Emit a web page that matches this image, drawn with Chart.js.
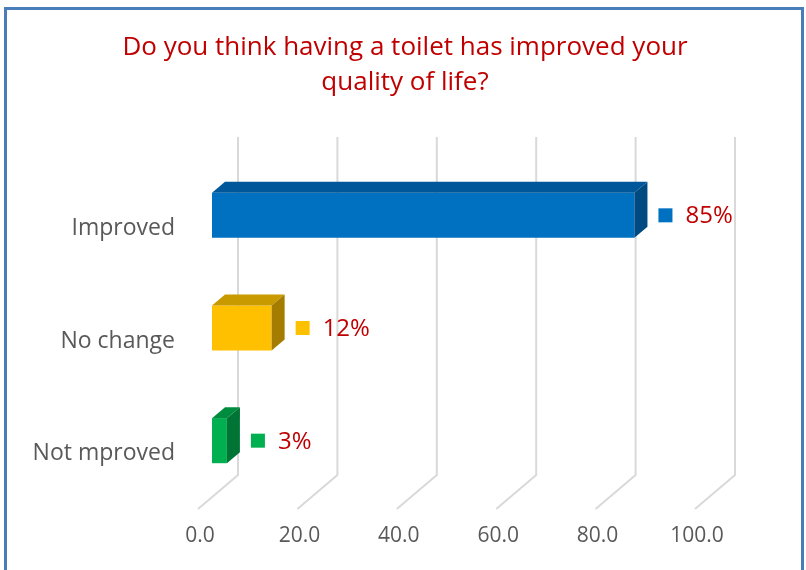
<!DOCTYPE html>
<html>
<head>
<meta charset="utf-8">
<script src="https://cdn.jsdelivr.net/npm/chart.js@4.4.1/dist/chart.umd.min.js"></script>
<style>
  html, body { margin: 0; padding: 0; background: #fff; }
  #wrap { width: 806px; height: 570px; }
</style>
</head>
<body>
<div id="wrap"><canvas id="toiletChart"></canvas></div>
<script>
const categories = ["Improved", "No change", "Not mproved"];
const percentages = [85, 12, 3];
const xTicks = [0, 20, 40, 60, 80, 100];
const titleLines = ["Do you think having a toilet has improved your", "quality of life?"];

const frontColors = ["#0070C0", "#FFC000", "#00B050"];
const topColors = ["#00589A", "#C99A00", "#008C3F"];
const sideColors = ["#004A82", "#A47D00", "#007434"];

// 3D offsets relative to the bar plane (the chart area)
const wall = { dx: 26, dy: -22 };   // back wall
const floorEdge = { dx: -14, dy: 12 }; // front edge of the floor
const depth = { dx: 13, dy: -11 };  // bar box depth

const FONT = "'Open Sans', 'DejaVu Sans', sans-serif";
const PAD_LEFT = 10;

// frame, centred title, back wall / floor gridlines
const wallGrid = {
  id: "wallGrid",
  beforeDraw(chart) {
    const ctx = chart.ctx;
    ctx.save();
    ctx.strokeStyle = "#4A7EBB";
    ctx.lineWidth = 3;
    ctx.strokeRect(5.5, 8.5, 797, 600);

    ctx.fillStyle = "#C00000";
    ctx.font = "26px " + FONT;
    ctx.textAlign = "center";
    ctx.textBaseline = "middle";
    titleLines.forEach((line, i) => ctx.fillText(line, 405, 48 + i * 35));
    ctx.restore();
  },
  beforeDatasetsDraw(chart) {
    const { ctx, chartArea, scales } = chart;
    ctx.save();
    ctx.strokeStyle = "#D9D9D9";
    ctx.lineWidth = 2;
    xTicks.forEach((v) => {
      const x = scales.x.getPixelForValue(v);
      ctx.beginPath();
      ctx.moveTo(x + wall.dx, chartArea.top + wall.dy);
      ctx.lineTo(x + wall.dx, chartArea.bottom + wall.dy);
      ctx.lineTo(x + floorEdge.dx, chartArea.bottom + floorEdge.dy);
      ctx.stroke();
    });
    ctx.restore();
  },
};

// top and side faces of each bar, plus the value labels
const barBoxes = {
  id: "barBoxes",
  afterDatasetsDraw(chart) {
    const ctx = chart.ctx;
    const meta = chart.getDatasetMeta(0);
    ctx.save();
    meta.data.forEach((bar, i) => {
      const p = bar.getProps(["x", "y", "base", "height"], true);
      const left = p.base, right = p.x;
      const top = p.y - p.height / 2, bottom = p.y + p.height / 2;

      ctx.fillStyle = topColors[i];
      ctx.beginPath();
      ctx.moveTo(left, top);
      ctx.lineTo(left + depth.dx, top + depth.dy);
      ctx.lineTo(right + depth.dx, top + depth.dy);
      ctx.lineTo(right, top);
      ctx.closePath();
      ctx.fill();

      ctx.fillStyle = sideColors[i];
      ctx.beginPath();
      ctx.moveTo(right, top);
      ctx.lineTo(right + depth.dx, top + depth.dy);
      ctx.lineTo(right + depth.dx, bottom + depth.dy);
      ctx.lineTo(right, bottom);
      ctx.closePath();
      ctx.fill();

      // legend key + percentage
      ctx.fillStyle = frontColors[i];
      ctx.fillRect(right + 24, p.y - 7, 14, 14);
      ctx.fillStyle = "#C00000";
      ctx.font = "24px " + FONT;
      ctx.textAlign = "left";
      ctx.textBaseline = "middle";
      ctx.fillText(percentages[i] + "%", right + 51, p.y + 1);
    });
    ctx.restore();
  },
};

new Chart(document.getElementById("toiletChart"), {
  type: "bar",
  data: {
    labels: categories,
    datasets: [
      {
        data: percentages,
        backgroundColor: frontColors,
        borderWidth: 0,
        barPercentage: 0.4,
        categoryPercentage: 1,
      },
    ],
  },
  options: {
    indexAxis: "y",
    responsive: true,
    maintainAspectRatio: false,
    animation: false,
    layout: { padding: { left: PAD_LEFT, right: 97, top: 159, bottom: 0 } },
    plugins: {
      legend: { display: false },
      tooltip: { enabled: false },
      title: { display: false },
    },
    scales: {
      x: {
        min: 0,
        max: 100,
        afterBuildTicks(scale) {
          scale.ticks = xTicks.map((v) => ({ value: v }));
        },
        afterFit(scale) {
          scale.height = 73;
        },
        grid: { display: false, drawTicks: false },
        border: { display: false },
        ticks: {
          callback: (v) => Number(v).toFixed(1),
          color: "#595959",
          font: { family: FONT, size: 21 },
          padding: 26,
          labelOffset: -12,
          maxRotation: 0,
        },
      },
      y: {
        afterFit(scale) {
          scale.width = 212 - PAD_LEFT;
        },
        grid: { display: false, drawTicks: false },
        border: { display: false },
        ticks: {
          color: "#595959",
          font: { family: FONT, size: 23 },
          padding: 37,
          labelOffset: 13,
        },
      },
    },
  },
  plugins: [wallGrid, barBoxes],
});
</script>
</body>
</html>
